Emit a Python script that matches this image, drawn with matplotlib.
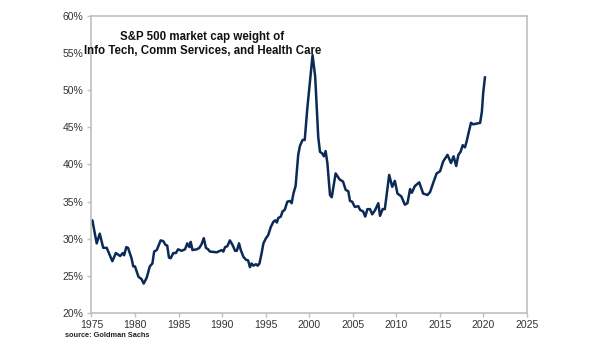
import numpy as np
import matplotlib
matplotlib.use("Agg")
import matplotlib.pyplot as plt
from matplotlib.ticker import FuncFormatter, MultipleLocator

# S&P 500 weight of Info Tech + Comm Services + Health Care, % of index
years = [
    1975.0, 1975.1, 1975.6, 1975.95, 1976.35, 1976.75, 1977.4, 1977.8, 1978.3, 1978.6,
    1978.75, 1979.0, 1979.2, 1979.6, 1979.8, 1980.0, 1980.4, 1980.75, 1981.0, 1981.35,
    1981.7, 1982.0, 1982.2, 1982.5, 1982.95, 1983.25, 1983.5, 1983.7, 1983.9, 1984.1,
    1984.4, 1984.7, 1984.95, 1985.35, 1985.75, 1986.0, 1986.25, 1986.4, 1986.6, 1987.1,
    1987.4, 1987.65, 1987.9, 1988.15, 1988.4, 1988.6, 1989.4, 1989.95, 1990.15, 1990.35,
    1990.6, 1990.9, 1991.2, 1991.5, 1991.7, 1991.95, 1992.15, 1992.45, 1992.75, 1993.0,
    1993.2, 1993.4, 1993.6, 1993.9, 1994.1, 1994.3, 1994.55, 1994.75, 1995.05, 1995.3,
    1995.6, 1995.9, 1996.1, 1996.3, 1996.45, 1996.75, 1996.95, 1997.2, 1997.5, 1997.8,
    1998.0, 1998.2, 1998.45, 1998.75, 1998.95, 1999.25, 1999.5, 1999.8, 2000.4, 2000.7,
    2001.05, 2001.25, 2001.5, 2001.7, 2001.9, 2002.1, 2002.4, 2002.6, 2003.05, 2003.5,
    2003.9, 2004.2, 2004.5, 2004.7, 2004.95, 2005.25, 2005.65, 2005.85, 2006.2, 2006.45,
    2006.7, 2007.0, 2007.25, 2007.6, 2007.95, 2008.15, 2008.45, 2008.7, 2009.2, 2009.55,
    2009.85, 2010.15, 2010.6, 2011.0, 2011.3, 2011.6, 2011.8, 2012.15, 2012.65, 2013.1,
    2013.6, 2013.9, 2014.25, 2014.65, 2015.05, 2015.4, 2015.9, 2016.3, 2016.6, 2016.9,
    2017.15, 2017.4, 2017.65, 2017.9, 2018.1, 2018.35, 2018.6, 2018.85, 2019.25, 2019.65,
    2019.85, 2020.0, 2020.2,
]
weights = [
    32.3, 32.5, 29.4, 30.7, 28.8, 28.8, 27.0, 28.1, 27.7, 28.1,
    27.8, 28.9, 28.8, 27.4, 26.3, 26.3, 24.9, 24.6, 24.0, 24.8,
    26.3, 26.7, 28.3, 28.5, 29.8, 29.7, 29.2, 29.1, 27.5, 27.4,
    28.1, 28.1, 28.6, 28.4, 28.6, 29.4, 28.9, 29.6, 28.5, 28.6,
    28.8, 29.3, 30.1, 28.8, 28.6, 28.3, 28.2, 28.5, 28.3, 28.9,
    29.0, 29.8, 29.2, 28.4, 28.4, 29.4, 28.5, 27.6, 27.2, 27.1,
    26.2, 26.7, 26.4, 26.6, 26.4, 26.7, 28.1, 29.4, 30.1, 30.5,
    31.6, 32.3, 32.5, 32.2, 32.8, 33.0, 33.7, 33.9, 35.0, 35.1,
    34.8, 36.1, 37.1, 41.3, 42.5, 43.3, 43.3, 47.6, 54.7, 51.8,
    43.7, 41.7, 41.5, 41.1, 41.8, 40.2, 35.9, 35.6, 38.8, 38.0,
    37.7, 36.6, 36.4, 35.1, 35.0, 34.3, 34.4, 33.9, 33.7, 33.0,
    34.0, 34.0, 33.3, 33.9, 34.8, 33.1, 34.0, 34.0, 38.6, 37.0,
    37.8, 36.1, 35.7, 34.6, 34.8, 36.7, 36.2, 37.1, 37.6, 36.1,
    35.9, 36.3, 37.5, 38.8, 39.1, 40.4, 41.3, 40.2, 41.1, 39.8,
    41.3, 41.7, 42.6, 42.3, 43.1, 44.4, 45.6, 45.4, 45.5, 45.6,
    47.1, 49.6, 51.7,
]

title = "S&P 500 market cap weight of\nInfo Tech, Comm Services, and Health Care"
source = "source: Goldman Sachs"

plt.rcParams["font.family"] = ["Liberation Sans", "DejaVu Sans"]

fig = plt.figure(figsize=(6.05, 3.41), dpi=100)
ax = fig.add_axes([0.1512, 0.0812, 0.7194, 0.8728])

ax.plot(years, weights, color="#0b2a55", linewidth=1.8, solid_joinstyle="round")

ax.set_xlim(1975, 2025)
ax.set_ylim(20, 60)
ax.xaxis.set_major_locator(MultipleLocator(5))
ax.yaxis.set_major_locator(MultipleLocator(5))
ax.yaxis.set_major_formatter(FuncFormatter(lambda v, _: f"{v:.0f}%"))

for s in ax.spines.values():
    s.set_color("#bfbfbf")
    s.set_linewidth(1.2)
ax.tick_params(axis="both", colors="#bfbfbf", labelcolor="#333333",
               labelsize=7.5, length=3, width=1)
ax.tick_params(axis="y", pad=3)
ax.tick_params(axis="x", pad=1.5)

ax.text(0.255, 0.905, title, transform=ax.transAxes, ha="center", va="center",
        fontsize=8.3, fontweight="bold", linespacing=1.15, color="#111111")

fig.text(0.107, 1 - 335.5 / 341, source, ha="left", va="center", fontsize=5.3,
         fontweight="bold", color="#222222")

fig.savefig("out.png", dpi=100, facecolor="white")
